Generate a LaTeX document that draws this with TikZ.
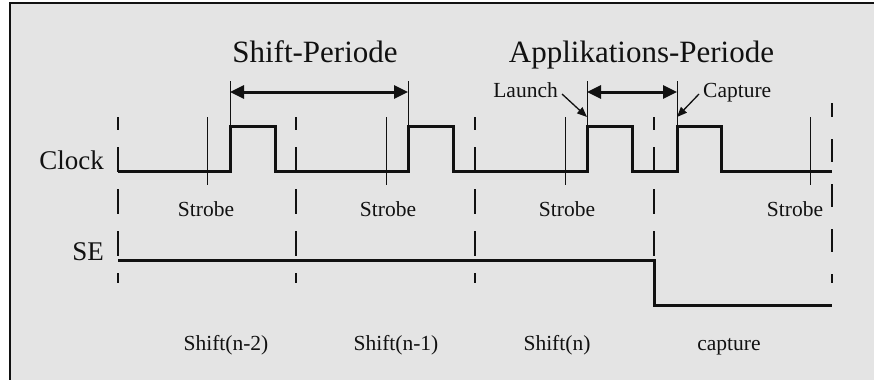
\documentclass[tikz,border=0pt]{standalone}
\usepackage{fontspec}
\setmainfont{Liberation Serif}
\usepackage{xcolor}
\usepackage{tikz}
\usetikzlibrary{arrows.meta}
\definecolor{ink}{HTML}{111111}
\definecolor{panel}{HTML}{E4E4E4}
\tikzset{
  frame/.style={draw=ink, line width=2pt},
  wave/.style={draw=ink, line width=3pt, line join=miter},
  tick/.style={draw=ink, line width=1pt},
  grid/.style={draw=ink, line width=1.2pt, dash pattern=on 25pt off 17pt, dash phase=12pt},
  span/.style={draw=ink, line width=3pt, {Triangle[length=14pt,width=13pt]}-{Triangle[length=14pt,width=13pt]}},
  pointer/.style={draw=ink, line width=1.3pt, -{Triangle[length=10pt,width=8pt]}},
  title/.style={text=ink, inner sep=0pt, font=\fontsize{31}{31}\selectfont},
  sig/.style={text=ink, inner sep=0pt, font=\fontsize{27}{27}\selectfont},
  lab/.style={text=ink, inner sep=0pt, font=\fontsize{21.5}{21.5}\selectfont},
}
\begin{document}
\begin{tikzpicture}[x=1pt,y=-1pt]
  \useasboundingbox (0,0) rectangle (874,380);
  \fill[white] (0,0) rectangle (874,380);
  \fill[panel] (10,3) rectangle (874,380);
  \draw[frame] (874,3) -- (10,3) -- (10,380);

  \def\lo{171}
  \def\hi{126}

  % cycle borders
  \foreach \x in {118,296,475,654}
    \draw[grid] (\x,117) -- (\x,283);
  \draw[grid, dash pattern=on 23pt off 22pt, dash phase=9pt] (832,103) -- (832,283);

  % strobe marks
  \foreach \x in {207,386,565,810}
    \draw[tick] (\x,117) -- (\x,185);

  % clock
  \coordinate (c0) at (118,\lo);
  \coordinate (c1) at (832,\lo);
  \draw[wave] (c0) -- (230,\lo) -- (230,\hi) -- (275,\hi) -- (275,\lo)
    -- (408,\lo) -- (408,\hi) -- (453,\hi) -- (453,\lo)
    -- (587,\lo) -- (587,\hi) -- (632,\hi) -- (632,\lo)
    -- (677,\lo) -- (677,\hi) -- (721,\hi) -- (721,\lo) -- (c1);

  % scan enable
  \coordinate (s0) at (118,260);
  \coordinate (s1) at (832,305);
  \draw[wave] (s0) -- (654,260) -- (654,305) -- (s1);

  % periods
  \coordinate (p1) at (230,92);
  \coordinate (p2) at (408,92);
  \coordinate (p3) at (587,92);
  \coordinate (p4) at (677,92);
  \foreach \p in {p1,p2,p3,p4}
    \draw[tick] (\p) ++(0,-11) -- ++(0,45);
  \draw[span] (p1) -- (p2);
  \draw[span] (p3) -- (p4);

  \node[title, anchor=base] (shiftT) at (315,62) {Shift-Periode};
  \node[title, anchor=base] (applT) at (641.5,62) {Applikations-Periode};

  \node[lab, anchor=base east] (launch) at (558,97) {Launch};
  \node[lab, anchor=base west] (capt) at (703,97) {Capture};
  \coordinate (lt) at (587,117);
  \coordinate (ct) at (677,117);
  \draw[pointer] ([shift={(4pt,3pt)}]launch.base east) -- (lt);
  \draw[pointer] ([shift={(-4pt,3pt)}]capt.base west) -- (ct);

  \node[sig, anchor=base east] (clk) at (104,169) {Clock};
  \node[sig, anchor=base east] (se) at (104,260) {SE};

  \node[lab, anchor=base] (st1) at (206,216) {Strobe};
  \node[lab, anchor=base] (st2) at (388,216) {Strobe};
  \node[lab, anchor=base] (st3) at (567,216) {Strobe};
  \node[lab, anchor=base] (st4) at (795,216) {Strobe};

  \node[lab, anchor=base] (ph1) at (226,350) {Shift(n-2)};
  \node[lab, anchor=base] (ph2) at (396,350) {Shift(n-1)};
  \node[lab, anchor=base] (ph3) at (557,350) {Shift(n)};
  \node[lab, anchor=base] (ph4) at (729,350) {capture};
\end{tikzpicture}
\end{document}
